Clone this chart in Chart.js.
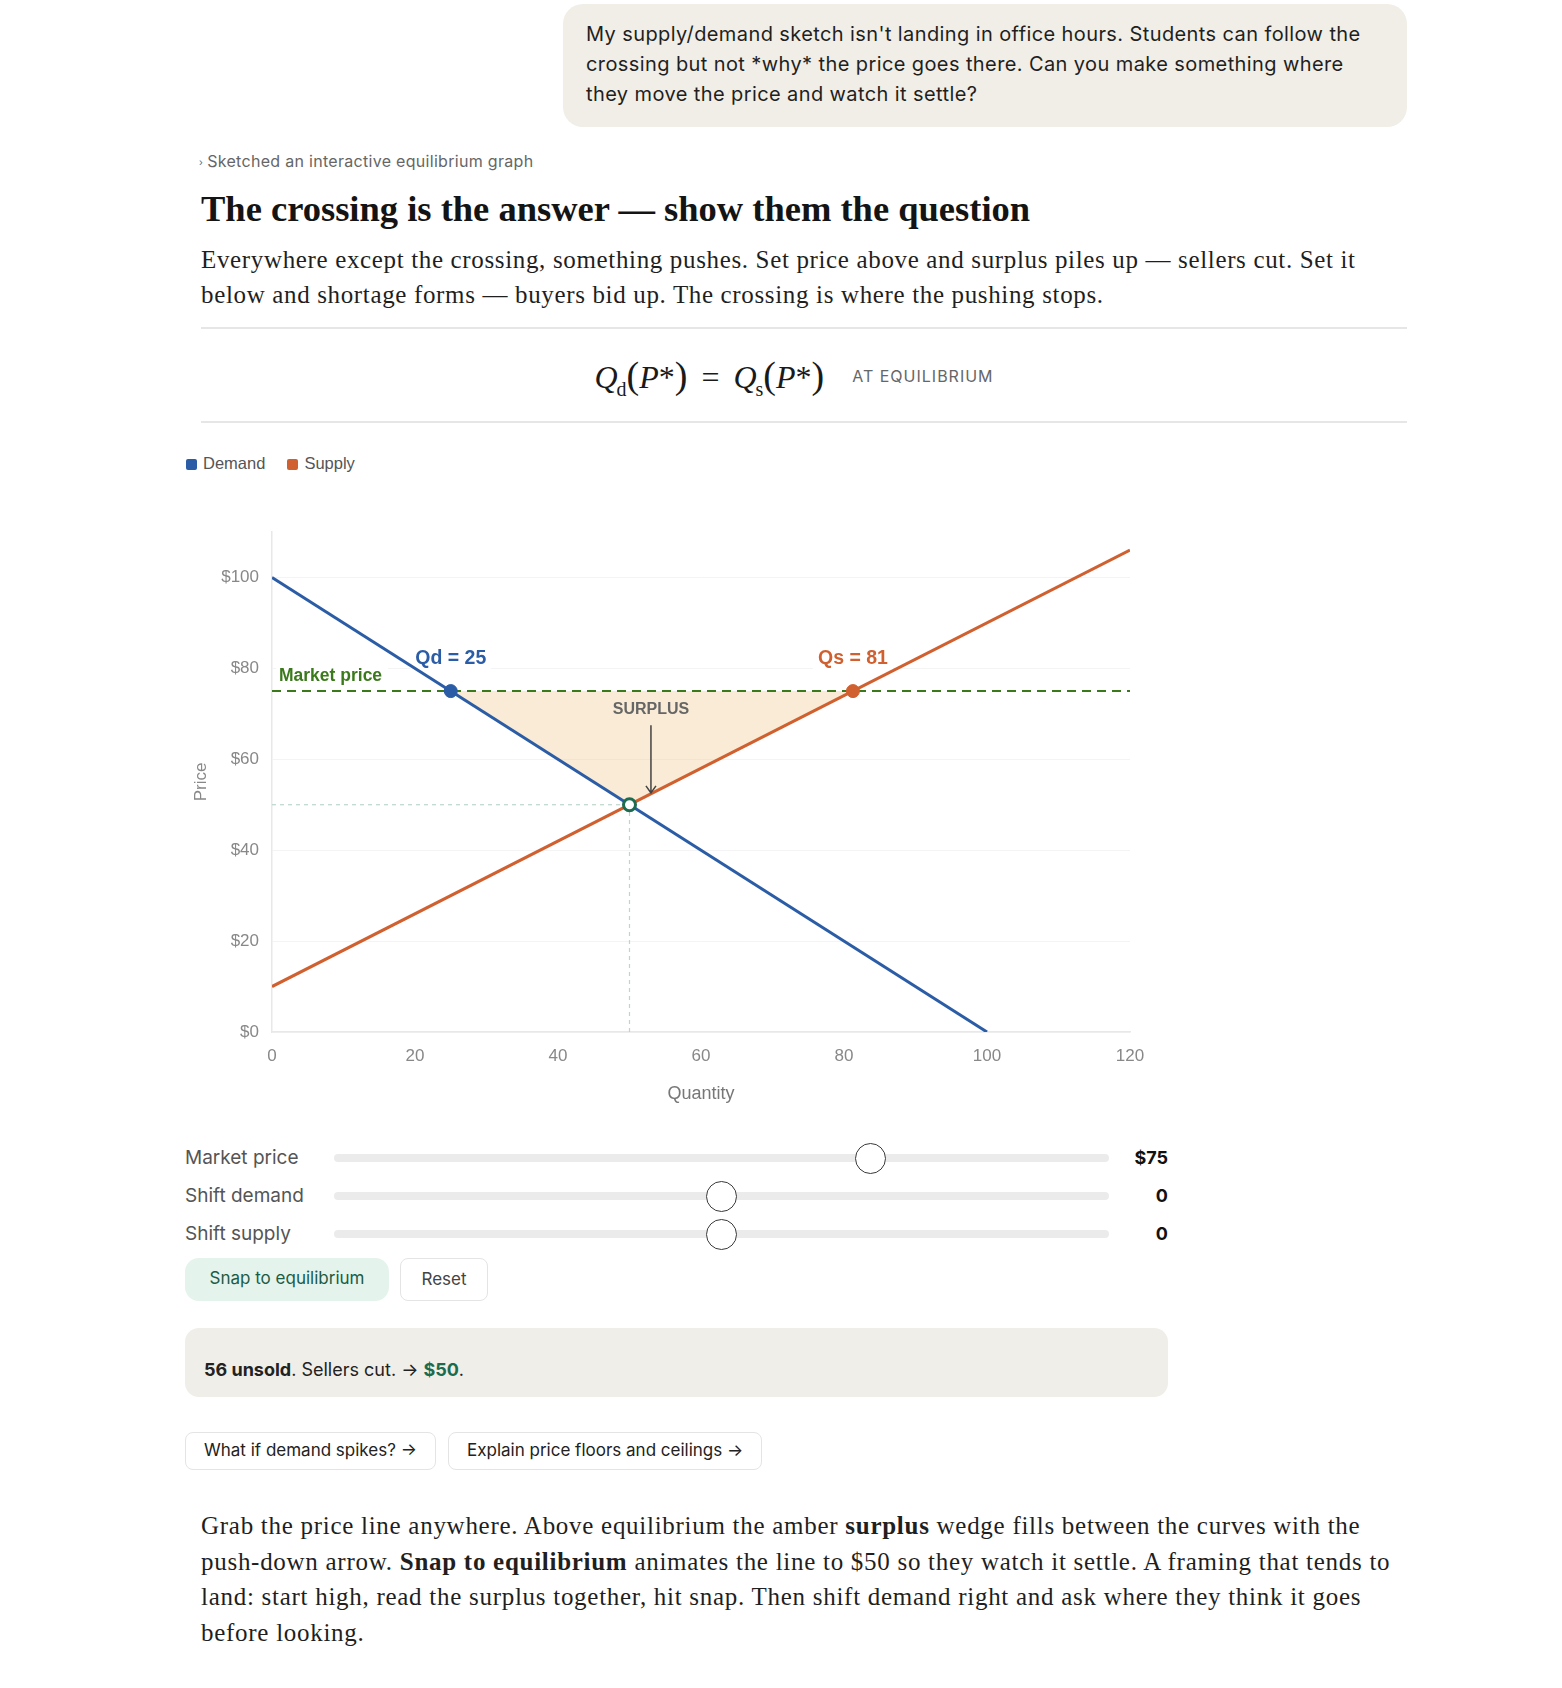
<!DOCTYPE html>
<html>
<head>
<meta charset="utf-8">
<script src="https://cdn.jsdelivr.net/npm/chart.js@4.4.1/dist/chart.umd.min.js"></script>
<style>
  html, body { margin: 0; padding: 0; background: #fff; }
  body { width: 1562px; height: 1688px; position: relative; overflow: hidden; font-family: Inter, "Noto Sans", sans-serif; color: #1f1f1f; }
  .abs { position: absolute; }
  .bubble { left: 563px; top: 4px; width: 844px; height: 123px; box-sizing: border-box; padding: 15px 23px; background: #f0eee6; border-radius: 20px; font-size: 20px; letter-spacing: 0.4px; line-height: 30px; color: #1f1f1f; }
  .sketched { left: 199px; top: 151px; font-size: 16px; letter-spacing: 0.3px; line-height: 20px; color: #666; }
  .sketched span { font-size: 10px; margin-right: 4px; vertical-align: 1px; }
  h1 { margin: 0; left: 201px; top: 189px; font-family: "Liberation Serif", serif; font-weight: 700; font-size: 36.5px; line-height: 40px; color: #141414; letter-spacing: 0px; }
  .lead { left: 201px; top: 242px; font-family: "Liberation Serif", serif; font-size: 25px; letter-spacing: 0.65px; line-height: 35px; color: #1f1f1f; margin: 0; white-space: nowrap; }
  .rule { left: 201px; width: 1206px; height: 1.5px; background: #e6e6e6; }
  .formula { left: 201px; width: 1206px; top: 345px; height: 60px; display: flex; align-items: center; justify-content: center; gap: 28px; }
  .eq { font-family: "Liberation Serif", serif; font-size: 32px; color: #1a1a1a; white-space: nowrap; margin-left: -20px; }
  .eq i { font-style: italic; }
  .eq sub { font-size: 20px; font-style: normal; vertical-align: -8px; line-height: 0; margin-left: -1px; }
  .eq .par { font-size: 38px; font-weight: 300; }
  .eq .op { margin: 0 14px; }
  .eqlabel { font-size: 16px; letter-spacing: 1px; color: #666; margin-top: 2px; }
  .legend { left: 186px; top: 453px; font-family: "Liberation Sans", sans-serif; font-size: 16.5px; line-height: 20px; color: #555; display: flex; gap: 22px; }
  .legend i { display: inline-block; width: 11px; height: 11px; border-radius: 2px; margin-right: 6px; vertical-align: -1px; }
  .chartbox { left: 186px; top: 502px; width: 984px; height: 620px; }
  .row { left: 185px; width: 983px; height: 36px; }
  .row label { position: absolute; left: 0; top: 0; line-height: 36px; font-size: 19px; color: #555; }
  .row .val { position: absolute; right: 0; top: 0; line-height: 36px; font-size: 18px; font-weight: 700; color: #111; }
  input[type=range] { -webkit-appearance: none; appearance: none; position: absolute; left: 149px; top: 2px; width: 775px; height: 32px; margin: 0; background: transparent; }
  input[type=range]::-webkit-slider-runnable-track { height: 8px; background: #ebebeb; border-radius: 4px; }
  input[type=range]::-webkit-slider-thumb { -webkit-appearance: none; width: 31px; height: 31px; margin-top: -11.5px; border-radius: 50%; background: #fff; border: 1.5px solid #3a3a3a; box-sizing: border-box; }
  .btn { top: 1258px; height: 43px; box-sizing: border-box; font-size: 17px; line-height: 41px; }
  .snap { left: 185px; width: 204px; background: #e4f3ec; color: #1c5c44; border-radius: 14px; text-align: center; }
  .reset { left: 400px; width: 88px; border: 1.5px solid #e4e4e4; border-radius: 8px; text-align: center; color: #444; }
  .status { left: 185px; top: 1328px; width: 983px; height: 69px; background: #f0eee9; border-radius: 14px; }
  .status p { position: absolute; left: 19px; top: 30px; margin: 0; font-size: 18px; line-height: 24px; color: #222; }
  .status b { font-weight: 700; }
  .status .g { color: #1c6b4c; font-weight: 700; }
  .chip { top: 1432px; height: 38px; box-sizing: border-box; border: 1.5px solid #e4e4e4; border-radius: 8px; font-size: 17px; line-height: 35px; padding: 0 18px; color: #222; white-space: nowrap; }
  .outro { left: 201px; top: 1508px; margin: 0; font-family: "Liberation Serif", serif; font-size: 25px; letter-spacing: 0.72px; line-height: 35.5px; color: #1f1f1f; white-space: nowrap; }
</style>
</head>
<body>
<div class="abs bubble">My supply/demand sketch isn't landing in office hours. Students can follow the<br>crossing but not *why* the price goes there. Can you make something where<br>they move the price and watch it settle?</div>

<div class="abs sketched"><span>›</span>Sketched an interactive equilibrium graph</div>
<h1 class="abs">The crossing is the answer — show them the question</h1>
<p class="abs lead">Everywhere except the crossing, something pushes. Set price above and surplus piles up — sellers cut. Set it<br>below and shortage forms — buyers bid up. The crossing is where the pushing stops.</p>

<div class="abs rule" style="top:327px"></div>
<div class="abs formula">
  <div class="eq"><i>Q</i><sub>d</sub><span class="par">(</span><i>P</i>*<span class="par">)</span><span class="op">=</span><i>Q</i><sub>s</sub><span class="par">(</span><i>P</i>*<span class="par">)</span></div>
  <div class="eqlabel">AT EQUILIBRIUM</div>
</div>
<div class="abs rule" style="top:421px"></div>

<div class="abs legend"><span><i style="background:#2b5ca6"></i>Demand</span><span><i style="background:#d0602f"></i>Supply</span></div>

<div class="abs chartbox"><canvas id="chart"></canvas></div>

<div class="abs row" style="top:1140px"><label>Market price</label><input type="range" min="5" max="105" value="75"><span class="val">$75</span></div>
<div class="abs row" style="top:1178px"><label>Shift demand</label><input type="range" min="-30" max="30" value="0"><span class="val">0</span></div>
<div class="abs row" style="top:1216px"><label>Shift supply</label><input type="range" min="-30" max="30" value="0"><span class="val">0</span></div>

<div class="abs btn snap">Snap to equilibrium</div>
<div class="abs btn reset">Reset</div>

<div class="abs status"><p><b>56 unsold</b>. Sellers cut. → <span class="g">$50</span>.</p></div>

<div class="abs chip" style="left:185px">What if demand spikes? →</div>
<div class="abs chip" style="left:448px">Explain price floors and ceilings →</div>

<p class="abs outro">Grab the price line anywhere. Above equilibrium the amber <b>surplus</b> wedge fills between the curves with the<br>push-down arrow. <b>Snap to equilibrium</b> animates the line to $50 so they watch it settle. A framing that tends to<br>land: start high, read the surplus together, hit snap. Then shift demand right and ask where they think it goes<br>before looking.</p>

<script>
const quantityTicks = [0, 20, 40, 60, 80, 100, 120];
const priceTicks = [0, 20, 40, 60, 80, 100];
const demandQ = [0, 100];
const demandP = [100, 0];
const supplyQ = [0, 120];
const supplyP = [10, 106];
const marketPrice = 75;
const qdAtPrice = 25;
const qsAtPrice = 81.25;
const eqQ = 50;
const eqP = 50;
const surplusQ = [25, 81.25, 50];
const surplusP = [75, 75, 50];
const arrowQ = 53;
const arrowP = [67.5, 52.6];

const blue = '#2b5ca6';
const orange = '#d0602f';
const green = '#3b7a1c';
const eqGreen = '#1e6b4f';
const chartFont = '"Liberation Sans", Arial, sans-serif';

const toPoints = (xs, ys) => xs.map((x, i) => ({ x: x, y: ys[i] }));

const annotations = {
    id: 'annotations',
    beforeDatasetsDraw(chart) {
        const { ctx, scales: { x, y } } = chart;
        // white halos behind labels so the grid breaks around them
        ctx.save();
        ctx.fillStyle = '#fff';
        ctx.fillRect(x.getPixelForValue(0) + 4, y.getPixelForValue(marketPrice) - 26, 112, 22);
        ctx.fillRect(x.getPixelForValue(qdAtPrice) - 40, y.getPixelForValue(marketPrice) - 44, 80, 24);
        ctx.fillRect(x.getPixelForValue(qsAtPrice) - 40, y.getPixelForValue(marketPrice) - 44, 80, 24);
        ctx.restore();
    },
    afterDatasetsDraw(chart) {
        const { ctx, scales: { x, y } } = chart;
        const py = y.getPixelForValue(marketPrice);
        ctx.save();
        ctx.textBaseline = 'middle';

        ctx.font = `600 17.5px ${chartFont}`;
        ctx.fillStyle = green;
        ctx.textAlign = 'left';
        ctx.fillText('Market price', x.getPixelForValue(0) + 7, py - 15);

        ctx.font = `700 19.5px ${chartFont}`;
        ctx.textAlign = 'center';
        ctx.fillStyle = blue;
        ctx.fillText(`Qd = ${Math.round(qdAtPrice)}`, x.getPixelForValue(qdAtPrice), py - 32);
        ctx.fillStyle = orange;
        ctx.fillText(`Qs = ${Math.round(qsAtPrice)}`, x.getPixelForValue(qsAtPrice), py - 32);

        ctx.font = `600 16px ${chartFont}`;
        ctx.fillStyle = '#666';
        ctx.fillText('SURPLUS', x.getPixelForValue(arrowQ), y.getPixelForValue(arrowP[0]) - 16);

        const ax = x.getPixelForValue(arrowQ);
        const ay0 = y.getPixelForValue(arrowP[0]);
        const ay1 = y.getPixelForValue(arrowP[1]);
        ctx.strokeStyle = '#444';
        ctx.lineWidth = 1.5;
        ctx.beginPath();
        ctx.moveTo(ax, ay0);
        ctx.lineTo(ax, ay1);
        ctx.moveTo(ax - 5, ay1 - 7);
        ctx.lineTo(ax, ay1);
        ctx.lineTo(ax + 5, ay1 - 7);
        ctx.stroke();
        ctx.restore();
    }
};

new Chart(document.getElementById('chart'), {
    type: 'scatter',
    data: {
        datasets: [
            {
                label: 'Equilibrium',
                data: [{ x: eqQ, y: eqP }],
                pointRadius: 6,
                pointBorderWidth: 3,
                pointBackgroundColor: '#fff',
                pointBorderColor: eqGreen
            },
            {
                label: 'Qd point',
                data: [{ x: qdAtPrice, y: marketPrice }],
                pointRadius: 6.5,
                pointBackgroundColor: blue,
                pointBorderColor: blue
            },
            {
                label: 'Qs point',
                data: [{ x: qsAtPrice, y: marketPrice }],
                pointRadius: 6.5,
                pointBackgroundColor: orange,
                pointBorderColor: orange
            },
            {
                label: 'Market price',
                data: toPoints([0, 120], [marketPrice, marketPrice]),
                showLine: true,
                borderColor: green,
                borderWidth: 2,
                borderDash: [9, 6],
                pointRadius: 0
            },
            {
                label: 'Demand',
                data: toPoints(demandQ, demandP),
                showLine: true,
                borderColor: blue,
                borderWidth: 3,
                pointRadius: 0
            },
            {
                label: 'Supply',
                data: toPoints(supplyQ, supplyP),
                showLine: true,
                borderColor: orange,
                borderWidth: 3,
                pointRadius: 0
            },
            {
                label: 'Guide P',
                data: toPoints([0, eqQ], [eqP, eqP]),
                showLine: true,
                borderColor: '#bcd6cc',
                borderWidth: 1.2,
                borderDash: [4, 4],
                pointRadius: 0
            },
            {
                label: 'Guide Q',
                data: toPoints([eqQ, eqQ], [0, eqP]),
                showLine: true,
                borderColor: '#bcd6cc',
                borderWidth: 1.2,
                borderDash: [4, 4],
                pointRadius: 0
            },
            {
                label: 'Surplus',
                data: toPoints(surplusQ, surplusP),
                showLine: true,
                fill: 'shape',
                backgroundColor: 'rgba(240, 205, 150, 0.4)',
                borderWidth: 0,
                pointRadius: 0
            }
        ]
    },
    options: {
        responsive: true,
        maintainAspectRatio: false,
        animation: false,
        layout: { padding: { top: 30, right: 40, bottom: 13 } },
        plugins: {
            legend: { display: false },
            tooltip: { enabled: false }
        },
        scales: {
            x: {
                type: 'linear',
                min: 0,
                max: 120,
                afterBuildTicks: (scale) => { scale.ticks = quantityTicks.map(v => ({ value: v })); },
                afterFit: (scale) => { scale.height = 77; },
                grid: { display: false, drawTicks: false },
                border: { color: '#e8e8e8', width: 1.5 },
                ticks: { padding: 14, color: '#888', font: { family: chartFont, size: 17 } },
                title: { display: true, text: 'Quantity', color: '#777', padding: { top: 1 }, font: { family: chartFont, size: 18 } }
            },
            y: {
                type: 'linear',
                min: 0,
                max: 110,
                afterBuildTicks: (scale) => { scale.ticks = priceTicks.map(v => ({ value: v })); },
                afterFit: (scale) => { scale.width = 86; },
                grid: { color: '#f4f4f4', drawTicks: false },
                border: { color: '#e8e8e8', width: 1.5 },
                ticks: { padding: 13, color: '#888', font: { family: chartFont, size: 17 }, callback: (v) => '$' + v },
                title: { display: true, text: 'Price', color: '#888', padding: 5, font: { family: chartFont, size: 17 } }
            }
        }
    },
    plugins: [annotations]
});
</script>
</body>
</html>
